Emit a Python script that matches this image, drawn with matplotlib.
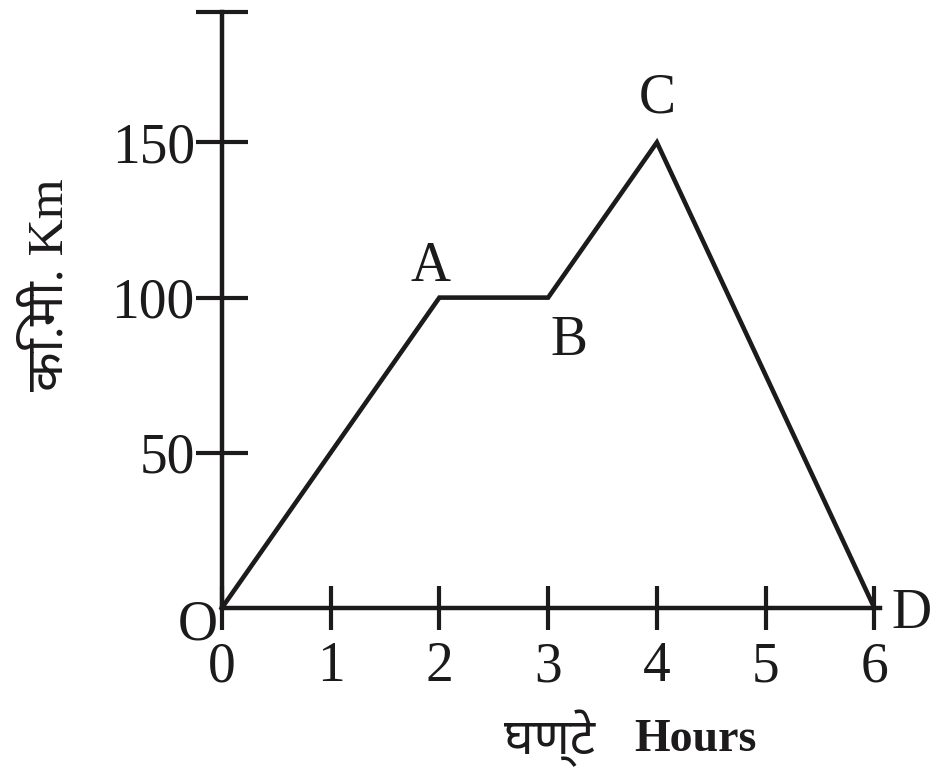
import matplotlib.pyplot as plt

# distance-time graph
hours = [0, 2, 3, 4, 6]
km = [0, 100, 100, 150, 0]
point_names = ['O', 'A', 'B', 'C', 'D']
x_ticks = [0, 1, 2, 3, 4, 5, 6]
y_ticks = [50, 100, 150, 192]
y_tick_labels = ['50', '100', '150', '']

serif = ['Liberation Serif', 'Noto Sans', 'DejaVu Sans']
fs = 40
ink = '#1c1a1a'

fig = plt.figure(figsize=(9.4, 7.71), dpi=100)
ax = fig.add_axes([0.236, 0.2114, 0.700, 0.773])

ax.plot(hours, km, color=ink, linewidth=3.3, clip_on=False,
        solid_joinstyle='miter')

ax.set_xlim(0, 6.05)
ax.set_ylim(0, 192)
for s in ['top', 'right']:
    ax.spines[s].set_visible(False)
for s in ['left', 'bottom']:
    ax.spines[s].set_linewidth(3.2)
    ax.spines[s].set_color(ink)

ax.set_xticks(x_ticks)
ax.set_xticklabels([str(t) for t in x_ticks], family=serif, fontsize=fs,
                   color=ink)
ax.set_yticks(y_ticks)
ax.set_yticklabels(y_tick_labels, family=serif, fontsize=fs, color=ink)
ax.tick_params(axis='x', direction='inout', length=32, width=3.0,
               color=ink, pad=8)
ax.tick_params(axis='y', direction='inout', length=37, width=3.0,
               color=ink, pad=1)

# point labels
offsets = {'O': (-0.22, -5.5), 'A': (-0.08, 10), 'B': (0.19, -14),
           'C': (0.0, 14), 'D': (0.34, -2)}
for x, y, n in zip(hours, km, point_names):
    dx, dy = offsets[n]
    ax.text(x + dx, y + dy, n, family=serif, fontsize=fs, ha='center',
            va='center', clip_on=False, color=ink)

fig.text(50 / 940, 1 - 285 / 771, 'कि.मी. Km', rotation=90, family=serif,
         fontsize=37, ha='center', va='center', color=ink)
fig.text(550 / 940, 1 - 738 / 771, 'घण्टे', family=serif, fontsize=36,
         ha='center', va='center', color=ink)
fig.text(695 / 940, 1 - 740 / 771, 'Hours', family=serif, fontsize=33,
         fontweight='bold', ha='center', va='center', color=ink)

fig.savefig('out.png', dpi=100)
